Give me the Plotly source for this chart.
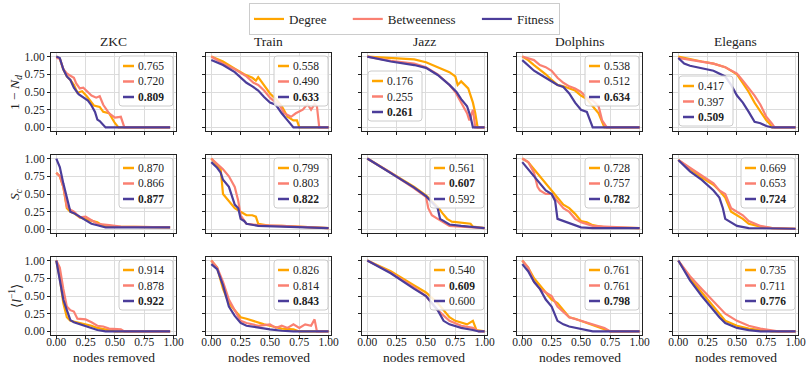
import plotly.graph_objects as go

W, H = 809, 366
FONT = "'Liberation Serif', 'DejaVu Serif', serif"

datasets = ["ZKC", "Train", "Jazz", "Dolphins", "Elegans"]
metric_labels = ["1 − <i>N</i><sub><i>d</i></sub>", "<i>S</i><sub><i>c</i></sub>", "⟨<i>l</i><sup>−1</sup>⟩"]
strategies = ["Degree", "Betweenness", "Fitness"]
colors = ["#FFA500", "#FA8072", "#4B3D9A"]
tick_vals = [0, 0.25, 0.5, 0.75, 1.0]
tick_text = ["0.00", "0.25", "0.50", "0.75", "1.00"]
xlabel = "nodes removed"

# ---- AUC values shown in each panel legend: [Degree, Betweenness, Fitness]
auc_nd = [[0.765, 0.720, 0.809], [0.558, 0.490, 0.633], [0.176, 0.255, 0.261], [0.538, 0.512, 0.634], [0.417, 0.397, 0.509]]
auc_sc = [[0.870, 0.866, 0.877], [0.799, 0.803, 0.822], [0.561, 0.607, 0.592], [0.728, 0.757, 0.782], [0.669, 0.653, 0.724]]
auc_l = [[0.914, 0.878, 0.922], [0.826, 0.814, 0.843], [0.540, 0.609, 0.600], [0.761, 0.761, 0.798], [0.735, 0.711, 0.776]]

# ---- Row 1: 1 - N_d
zkc_nd_deg = [(0,1.0),(0.03,0.97),(0.06,0.82),(0.09,0.72),(0.12,0.67),(0.15,0.6),(0.18,0.49),(0.22,0.51),(0.26,0.44),(0.32,0.31),(0.37,0.29),(0.40,0.22),(0.45,0.2),(0.5,0.06),(0.53,0.0),(0.97,0.0)]
zkc_nd_bet = [(0,0.98),(0.03,0.97),(0.06,0.82),(0.09,0.76),(0.12,0.73),(0.15,0.70),(0.17,0.62),(0.2,0.55),(0.23,0.56),(0.27,0.50),(0.3,0.45),(0.34,0.42),(0.37,0.44),(0.4,0.32),(0.45,0.2),(0.5,0.14),(0.55,0.15),(0.58,0.0),(0.97,0.0)]
zkc_nd_fit = [(0,1.0),(0.03,0.98),(0.06,0.82),(0.09,0.72),(0.12,0.67),(0.15,0.56),(0.19,0.47),(0.23,0.42),(0.27,0.38),(0.30,0.31),(0.33,0.22),(0.35,0.11),(0.37,0.09),(0.42,0.0),(0.97,0.0)]

train_nd_deg = [(0,1.0),(0.1,0.93),(0.2,0.83),(0.28,0.75),(0.35,0.70),(0.38,0.66),(0.4,0.71),(0.45,0.6),(0.5,0.48),(0.55,0.4),(0.6,0.3),(0.65,0.15),(0.7,0.1),(0.73,0.1),(0.75,0.0),(1.0,0.0)]
train_nd_bet = [(0,1.0),(0.1,0.9),(0.2,0.82),(0.3,0.72),(0.36,0.63),(0.4,0.6),(0.45,0.52),(0.5,0.42),(0.55,0.35),(0.58,0.32),(0.62,0.2),(0.68,0.15),(0.72,0.2),(0.78,0.25),(0.82,0.33),(0.85,0.25),(0.88,0.33),(0.9,0.3),(0.92,0.0),(1.0,0.0)]
train_nd_fit = [(0,0.95),(0.1,0.88),(0.2,0.78),(0.25,0.7),(0.3,0.63),(0.35,0.58),(0.4,0.52),(0.45,0.43),(0.5,0.35),(0.55,0.32),(0.6,0.2),(0.65,0.1),(0.7,0.0),(1.0,0.0)]

jazz_nd_deg = [(0,1.0),(0.2,0.98),(0.4,0.96),(0.5,0.92),(0.6,0.85),(0.7,0.78),(0.75,0.72),(0.77,0.6),(0.8,0.65),(0.83,0.6),(0.86,0.55),(0.9,0.35),(0.92,0.2),(0.94,0.0),(1.0,0.0)]
jazz_nd_bet = [(0,1.0),(0.2,0.94),(0.4,0.9),(0.5,0.85),(0.6,0.75),(0.7,0.6),(0.75,0.5),(0.8,0.35),(0.85,0.2),(0.87,0.1),(0.9,0.25),(0.92,0.0),(1.0,0.0)]
jazz_nd_fit = [(0,1.0),(0.2,0.93),(0.4,0.88),(0.5,0.84),(0.6,0.74),(0.7,0.6),(0.76,0.5),(0.8,0.4),(0.85,0.3),(0.88,0.15),(0.9,0.0),(1.0,0.0)]

dolph_nd_deg = [(0,1.0),(0.05,0.95),(0.1,0.88),(0.15,0.82),(0.2,0.75),(0.25,0.67),(0.3,0.6),(0.35,0.58),(0.4,0.55),(0.45,0.52),(0.5,0.45),(0.55,0.4),(0.6,0.3),(0.65,0.2),(0.7,0.0),(1.0,0.0)]
dolph_nd_bet = [(0,1.0),(0.1,0.95),(0.15,0.88),(0.2,0.85),(0.25,0.8),(0.3,0.7),(0.35,0.63),(0.4,0.58),(0.45,0.55),(0.5,0.5),(0.55,0.42),(0.6,0.38),(0.65,0.3),(0.68,0.1),(0.72,0.0),(1.0,0.0)]
dolph_nd_fit = [(0,0.95),(0.05,0.88),(0.1,0.8),(0.15,0.75),(0.2,0.7),(0.25,0.65),(0.3,0.6),(0.35,0.57),(0.4,0.48),(0.45,0.35),(0.5,0.25),(0.55,0.22),(0.58,0.1),(0.6,0.0),(1.0,0.0)]

eleg_nd_deg = [(0,1.0),(0.1,0.96),(0.2,0.93),(0.3,0.9),(0.4,0.85),(0.5,0.75),(0.55,0.62),(0.6,0.5),(0.65,0.35),(0.7,0.22),(0.75,0.1),(0.78,0.05),(0.8,0.0),(1.0,0.0)]
eleg_nd_bet = [(0,0.98),(0.1,0.95),(0.2,0.93),(0.3,0.9),(0.4,0.85),(0.5,0.76),(0.55,0.66),(0.6,0.55),(0.65,0.45),(0.7,0.32),(0.75,0.15),(0.8,0.05),(0.82,0.0),(1.0,0.0)]
eleg_nd_fit = [(0,0.98),(0.05,0.9),(0.1,0.87),(0.2,0.83),(0.3,0.8),(0.4,0.72),(0.45,0.6),(0.5,0.45),(0.55,0.35),(0.6,0.22),(0.65,0.08),(0.7,0.06),(0.75,0.02),(0.8,0.0),(1.0,0.0)]

# ---- Row 2: S_c
zkc_sc_deg = [(0,0.8),(0.03,0.75),(0.06,0.6),(0.09,0.3),(0.12,0.25),(0.15,0.23),(0.2,0.17),(0.25,0.15),(0.3,0.13),(0.35,0.1),(0.4,0.05),(0.5,0.04),(0.97,0.03)]
zkc_sc_bet = [(0,0.8),(0.03,0.75),(0.06,0.6),(0.09,0.32),(0.12,0.28),(0.15,0.25),(0.2,0.17),(0.25,0.18),(0.3,0.13),(0.35,0.08),(0.45,0.06),(0.55,0.04),(0.97,0.03)]
zkc_sc_fit = [(0,1.0),(0.03,0.88),(0.06,0.65),(0.09,0.45),(0.12,0.25),(0.15,0.23),(0.18,0.2),(0.22,0.15),(0.26,0.12),(0.3,0.08),(0.35,0.06),(0.42,0.03),(0.97,0.03)]

train_sc_deg = [(0,1.0),(0.05,0.9),(0.08,0.85),(0.1,0.5),(0.15,0.4),(0.2,0.3),(0.25,0.25),(0.3,0.2),(0.35,0.2),(0.38,0.18),(0.4,0.08),(0.5,0.05),(0.6,0.05),(0.7,0.04),(1.0,0.02)]
train_sc_bet = [(0,1.0),(0.05,0.93),(0.1,0.85),(0.15,0.75),(0.2,0.6),(0.23,0.4),(0.25,0.2),(0.3,0.08),(0.4,0.06),(0.6,0.05),(0.8,0.04),(1.0,0.02)]
train_sc_fit = [(0,0.95),(0.05,0.87),(0.08,0.8),(0.1,0.7),(0.15,0.6),(0.18,0.45),(0.2,0.35),(0.23,0.3),(0.25,0.15),(0.28,0.12),(0.3,0.08),(0.4,0.05),(0.6,0.04),(0.8,0.03),(1.0,0.02)]

jazz_sc_deg = [(0,1.0),(0.2,0.8),(0.4,0.6),(0.5,0.48),(0.55,0.4),(0.6,0.32),(0.64,0.23),(0.68,0.15),(0.72,0.11),(0.8,0.1),(0.88,0.08),(0.9,0.04),(1.0,0.02)]
jazz_sc_bet = [(0,1.0),(0.2,0.8),(0.4,0.58),(0.5,0.46),(0.52,0.3),(0.55,0.2),(0.6,0.15),(0.65,0.1),(0.7,0.05),(0.8,0.04),(1.0,0.02)]
jazz_sc_fit = [(0,1.0),(0.2,0.79),(0.4,0.59),(0.5,0.47),(0.55,0.38),(0.6,0.3),(0.62,0.15),(0.65,0.12),(0.7,0.07),(0.8,0.05),(1.0,0.02)]

dolph_sc_deg = [(0,1.0),(0.05,0.95),(0.1,0.85),(0.15,0.75),(0.2,0.65),(0.25,0.55),(0.3,0.45),(0.35,0.35),(0.4,0.3),(0.45,0.22),(0.5,0.12),(0.55,0.1),(0.6,0.06),(0.7,0.03),(1.0,0.02)]
dolph_sc_bet = [(0,1.0),(0.05,0.95),(0.1,0.8),(0.13,0.6),(0.15,0.55),(0.2,0.5),(0.25,0.5),(0.3,0.4),(0.35,0.3),(0.4,0.25),(0.45,0.15),(0.5,0.1),(0.55,0.08),(0.6,0.05),(0.7,0.04),(1.0,0.02)]
dolph_sc_fit = [(0,0.95),(0.05,0.85),(0.1,0.75),(0.15,0.65),(0.2,0.55),(0.25,0.5),(0.28,0.4),(0.3,0.15),(0.35,0.12),(0.4,0.08),(0.45,0.05),(0.5,0.03),(0.6,0.02),(1.0,0.02)]

eleg_sc_deg = [(0,0.98),(0.1,0.85),(0.2,0.73),(0.3,0.63),(0.35,0.55),(0.4,0.45),(0.45,0.25),(0.5,0.2),(0.55,0.15),(0.6,0.08),(0.7,0.04),(0.8,0.02),(1.0,0.01)]
eleg_sc_bet = [(0,0.98),(0.1,0.87),(0.2,0.75),(0.3,0.65),(0.35,0.55),(0.4,0.5),(0.45,0.3),(0.5,0.25),(0.55,0.2),(0.6,0.12),(0.7,0.05),(0.8,0.02),(1.0,0.01)]
eleg_sc_fit = [(0,0.98),(0.1,0.82),(0.2,0.7),(0.25,0.63),(0.3,0.55),(0.35,0.45),(0.38,0.3),(0.4,0.15),(0.45,0.1),(0.5,0.05),(0.6,0.02),(0.8,0.01),(1.0,0.01)]

# ---- Row 3: <l^-1>
zkc_l_deg = [(0,1.0),(0.03,0.75),(0.06,0.4),(0.09,0.2),(0.12,0.15),(0.2,0.12),(0.25,0.1),(0.3,0.08),(0.35,0.05),(0.45,0.02),(0.5,0.0),(0.97,0.0)]
zkc_l_bet = [(0,1.0),(0.03,0.9),(0.06,0.6),(0.09,0.35),(0.12,0.3),(0.15,0.28),(0.18,0.18),(0.22,0.18),(0.25,0.17),(0.3,0.13),(0.35,0.08),(0.4,0.07),(0.45,0.04),(0.55,0.03),(0.58,0.0),(0.97,0.0)]
zkc_l_fit = [(0,1.0),(0.03,0.75),(0.06,0.45),(0.09,0.3),(0.12,0.16),(0.15,0.13),(0.2,0.1),(0.25,0.07),(0.3,0.04),(0.35,0.02),(0.42,0.0),(0.97,0.0)]

train_l_deg = [(0,1.0),(0.05,0.9),(0.1,0.6),(0.15,0.4),(0.2,0.3),(0.25,0.2),(0.3,0.18),(0.35,0.15),(0.4,0.12),(0.45,0.1),(0.5,0.08),(0.6,0.04),(0.7,0.03),(0.75,0.0),(1.0,0.0)]
train_l_bet = [(0,1.0),(0.05,0.9),(0.1,0.7),(0.15,0.45),(0.2,0.3),(0.25,0.15),(0.3,0.12),(0.4,0.08),(0.5,0.1),(0.55,0.05),(0.6,0.08),(0.65,0.05),(0.7,0.1),(0.75,0.05),(0.8,0.1),(0.85,0.08),(0.88,0.17),(0.9,0.0),(1.0,0.0)]
train_l_fit = [(0,0.95),(0.05,0.88),(0.1,0.65),(0.15,0.35),(0.2,0.22),(0.25,0.12),(0.3,0.08),(0.4,0.05),(0.5,0.03),(0.6,0.01),(0.7,0.0),(1.0,0.0)]

jazz_l_deg = [(0,1.0),(0.2,0.85),(0.4,0.65),(0.5,0.55),(0.6,0.4),(0.7,0.2),(0.75,0.15),(0.8,0.12),(0.85,0.1),(0.9,0.15),(0.93,0.02),(1.0,0.0)]
jazz_l_bet = [(0,1.0),(0.2,0.83),(0.4,0.62),(0.5,0.5),(0.6,0.3),(0.7,0.15),(0.8,0.08),(0.9,0.05),(0.95,0.0),(1.0,0.0)]
jazz_l_fit = [(0,1.0),(0.2,0.82),(0.4,0.6),(0.5,0.5),(0.6,0.3),(0.65,0.15),(0.7,0.1),(0.8,0.05),(0.9,0.02),(0.95,0.0),(1.0,0.0)]

dolph_l_deg = [(0,1.0),(0.05,0.9),(0.1,0.75),(0.15,0.65),(0.2,0.55),(0.25,0.45),(0.3,0.4),(0.35,0.3),(0.4,0.2),(0.45,0.18),(0.5,0.15),(0.6,0.08),(0.7,0.03),(0.75,0.0),(1.0,0.0)]
dolph_l_bet = [(0,1.0),(0.05,0.9),(0.1,0.7),(0.15,0.6),(0.2,0.55),(0.25,0.5),(0.3,0.35),(0.35,0.28),(0.4,0.2),(0.5,0.15),(0.6,0.1),(0.7,0.05),(0.75,0.0),(1.0,0.0)]
dolph_l_fit = [(0,0.95),(0.05,0.85),(0.1,0.7),(0.15,0.6),(0.2,0.45),(0.25,0.35),(0.3,0.15),(0.35,0.1),(0.4,0.07),(0.5,0.03),(0.6,0.0),(1.0,0.0)]

eleg_l_deg = [(0,1.0),(0.1,0.75),(0.2,0.55),(0.3,0.35),(0.35,0.25),(0.4,0.15),(0.5,0.08),(0.6,0.04),(0.7,0.02),(0.8,0.0),(1.0,0.0)]
eleg_l_bet = [(0,1.0),(0.1,0.78),(0.2,0.6),(0.3,0.42),(0.4,0.25),(0.5,0.15),(0.6,0.08),(0.7,0.04),(0.8,0.02),(0.85,0.0),(1.0,0.0)]
eleg_l_fit = [(0,1.0),(0.1,0.72),(0.2,0.5),(0.3,0.3),(0.35,0.2),(0.4,0.12),(0.5,0.05),(0.6,0.02),(0.7,0.0),(1.0,0.0)]

rows_series = [
    [[zkc_nd_deg, zkc_nd_bet, zkc_nd_fit], [train_nd_deg, train_nd_bet, train_nd_fit], [jazz_nd_deg, jazz_nd_bet, jazz_nd_fit], [dolph_nd_deg, dolph_nd_bet, dolph_nd_fit], [eleg_nd_deg, eleg_nd_bet, eleg_nd_fit]],
    [[zkc_sc_deg, zkc_sc_bet, zkc_sc_fit], [train_sc_deg, train_sc_bet, train_sc_fit], [jazz_sc_deg, jazz_sc_bet, jazz_sc_fit], [dolph_sc_deg, dolph_sc_bet, dolph_sc_fit], [eleg_sc_deg, eleg_sc_bet, eleg_sc_fit]],
    [[zkc_l_deg, zkc_l_bet, zkc_l_fit], [train_l_deg, train_l_bet, train_l_fit], [jazz_l_deg, jazz_l_bet, jazz_l_fit], [dolph_l_deg, dolph_l_bet, dolph_l_fit], [eleg_l_deg, eleg_l_bet, eleg_l_fit]],
]
rows_auc = [auc_nd, auc_sc, auc_l]

# ---- layout geometry (pixels)
col_left = [51, 206, 362, 517, 673]
row_top = [53, 155, 257]
PW, PH = 125, 78
legend_loc = [["ur", "ur", "ll", "ur", "ll"], ["ur"] * 5, ["ur"] * 5]
PAD = "\u00a0" * 5

def px(x):
    return x / W

def py(y):
    return 1 - y / H

fig = go.Figure()
shapes, annots = [], []

for r in range(3):
    for c in range(5):
        n = r * 5 + c + 1
        xa = "x" if n == 1 else f"x{n}"
        ya = "y" if n == 1 else f"y{n}"
        for s in range(3):
            pts = rows_series[r][c][s]
            fig.add_trace(go.Scatter(
                x=[p[0] for p in pts], y=[p[1] for p in pts], mode="lines",
                line=dict(color=colors[s], width=2.2),
                name=strategies[s] + (PAD if s < 2 else ""),
                legendgroup=strategies[s], showlegend=(n == 1),
                xaxis=xa, yaxis=ya, hoverinfo="skip"))
        L, T = col_left[c], row_top[r]
        axis_common = dict(showline=True, mirror=True, linecolor="#222", linewidth=1,
                           showgrid=True, gridcolor="#dcdcdc", gridwidth=1,
                           ticks="outside", ticklen=3, tickcolor="#222",
                           tickvals=tick_vals, ticktext=tick_text, zeroline=False,
                           tickfont=dict(size=11.5, color="#222", family=FONT))
        fig.update_layout(**{
            ("xaxis" if n == 1 else f"xaxis{n}"): dict(
                domain=[px(L), px(L + PW)], anchor=ya, range=[-0.045, 1.02],
                showticklabels=(r == 2), automargin=False, ticklabelstandoff=-7, **axis_common),
            ("yaxis" if n == 1 else f"yaxis{n}"): dict(
                domain=[py(T + PH), py(T)], anchor=xa, range=[-0.05, 1.05],
                showticklabels=(c == 0), automargin=False, **axis_common),
        })
        # in-panel legend box
        bw, bh = 54, 50
        if legend_loc[r][c] == "ur":
            bx, by = L + PW - 3 - bw, T + 3
        else:
            bx = L + 6
            by = T + PH - (10 if c == 2 else 5) - bh
        rad = 3
        x0, x1, y0, y1 = bx, bx + bw, by, by + bh
        path = (f"M {px(x0+rad)},{py(y0)} L {px(x1-rad)},{py(y0)} Q {px(x1)},{py(y0)} {px(x1)},{py(y0+rad)} "
                f"L {px(x1)},{py(y1-rad)} Q {px(x1)},{py(y1)} {px(x1-rad)},{py(y1)} "
                f"L {px(x0+rad)},{py(y1)} Q {px(x0)},{py(y1)} {px(x0)},{py(y1-rad)} "
                f"L {px(x0)},{py(y0+rad)} Q {px(x0)},{py(y0)} {px(x0+rad)},{py(y0)} Z")
        shapes.append(dict(type="path", path=path, xref="paper", yref="paper",
                           fillcolor="rgba(255,255,255,0.85)", line=dict(color="#cccccc", width=1), layer="above"))
        vals = rows_auc[r][c]
        best = max(range(3), key=lambda k: vals[k])
        for s in range(3):
            ly = by + 10 + 15.5 * s
            shapes.append(dict(type="line", xref="paper", yref="paper",
                               x0=px(bx + 4), x1=px(bx + 15), y0=py(ly), y1=py(ly),
                               line=dict(color=colors[s], width=2.5), layer="above"))
            txt = f"{vals[s]:.3f}"
            if s == best:
                txt = f"<b>{txt}</b>"
            annots.append(dict(x=px(bx + 17), y=py(ly), xref="paper", yref="paper",
                               text=txt, showarrow=False, xanchor="left", yanchor="middle",
                               font=dict(size=11.5, family=FONT, color="#222")))

# column titles and x labels
for c in range(5):
    annots.append(dict(x=px(col_left[c] + PW / 2), y=py(41), xref="paper", yref="paper",
                       text=datasets[c], showarrow=False, xanchor="center", yanchor="middle",
                       font=dict(size=13.5, family=FONT, color="#222")))
    annots.append(dict(x=px(col_left[c] + PW / 2), y=py(357), xref="paper", yref="paper",
                       text=xlabel, showarrow=False, xanchor="center", yanchor="middle",
                       font=dict(size=13.5, family=FONT, color="#222")))
# row labels
for r in range(3):
    annots.append(dict(x=px(15), y=py(row_top[r] + PH / 2), xref="paper", yref="paper",
                       text=metric_labels[r], showarrow=False, textangle=-90,
                       xanchor="center", yanchor="middle",
                       font=dict(size=13.5, family=FONT, color="#222")))

fig.update_layout(
    width=W, height=H, margin=dict(l=0, r=0, t=0, b=0, autoexpand=False),
    paper_bgcolor="white", plot_bgcolor="white",
    font=dict(family=FONT, size=12, color="#222"),
    showlegend=True,
    legend=dict(orientation="h", x=0.5, xanchor="center", xref="container",
                y=1 - 3 / H, yanchor="top", yref="container",
                bordercolor="#cccccc", borderwidth=1, bgcolor="white",
                font=dict(size=13, family=FONT, color="#222"), itemwidth=30),
    shapes=shapes, annotations=annots,
)

fig.write_html("out.html", config={"displayModeBar": False},
               post_script="document.body.style.margin='0px';")
